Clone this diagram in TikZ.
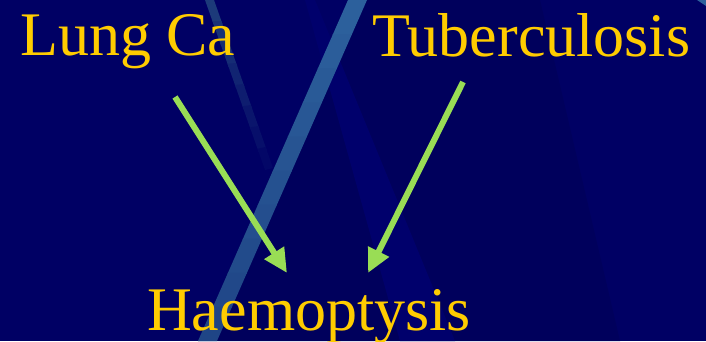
\documentclass[tikz,border=0pt]{standalone}
\usepackage{fontspec}
\newfontfamily\timesx{Liberation Serif}
\usetikzlibrary{arrows.meta}
\definecolor{bgbase}{RGB}{0,0,100}
\definecolor{bgdark}{RGB}{0,0,92}
\definecolor{bgband}{RGB}{0,0,108}
\definecolor{stripetop}{RGB}{44,96,156}
\definecolor{stripebot}{RGB}{30,66,132}
\definecolor{fadetop}{RGB}{28,58,122}
\definecolor{labelgold}{RGB}{255,204,0}
\definecolor{arrowgreen}{RGB}{153,221,85}
\tikzset{
  lbl/.style={text=labelgold, inner sep=0pt, anchor=base west, font=\timesx\fontsize{62}{70}\selectfont},
  link/.style={draw=arrowgreen, line width=6pt, -{Triangle[length=24pt,width=22pt]}}
}
\begin{document}
\begin{tikzpicture}[x=1pt,y=1pt]
\useasboundingbox (0,0) rectangle (706,341);
% background
\fill[bgbase] (0,0) rectangle (706,341);
\fill[bgdark] (348,341) -- (540,341) -- (620,0) -- (198,0) -- cycle;
\fill[bgband] (305,341) -- (315,341) -- (455,0) -- (400,0) -- cycle;
% faded narrow stripe
\foreach \i in {0,...,7}{
  \pgfmathsetmacro{\ta}{\i/8}
  \pgfmathsetmacro{\tb}{min((\i+1.15)/8,1)}
  \pgfmathtruncatemacro{\p}{100-\i*12.5}
  \fill[fadetop!\p!bgbase] ({205+60*\ta},{341-170*\ta}) -- ({214+59*\ta},{341-168*\ta}) -- ({214+59*\tb},{341-168*\tb}) -- ({205+60*\tb},{341-170*\tb}) -- cycle;
}
% light stripe
\foreach \i in {0,...,9}{
  \pgfmathsetmacro{\ya}{34.1*\i}
  \pgfmathsetmacro{\yb}{min(34.1*(\i+1)+1,341)}
  \pgfmathtruncatemacro{\p}{100-\i*10}
  \fill[stripetop!\p!stripebot] ({348-0.44*\ya},{341-\ya}) -- ({367-0.44*\ya},{341-\ya}) -- ({367-0.44*\yb},{341-\yb}) -- ({348-0.44*\yb},{341-\yb}) -- cycle;
}
\fill[stripetop] (697,341) -- (706,341) -- (706,335) -- cycle;
% labels
\node[lbl] (lung) at (20,286) {Lung Ca};
\node[lbl] (tb) at (372,285) {Tuberculosis};
\node[lbl] (haem) at (147,11) {Haemoptysis};
% arrow ends
\coordinate (lungstart) at (175,244);
\coordinate (lungend) at (287,68);
\coordinate (tbstart) at (463,259);
\coordinate (tbend) at (368,68);
\draw[link] (lungstart) -- (lungend);
\draw[link] (tbstart) -- (tbend);
\end{tikzpicture}
\end{document}
